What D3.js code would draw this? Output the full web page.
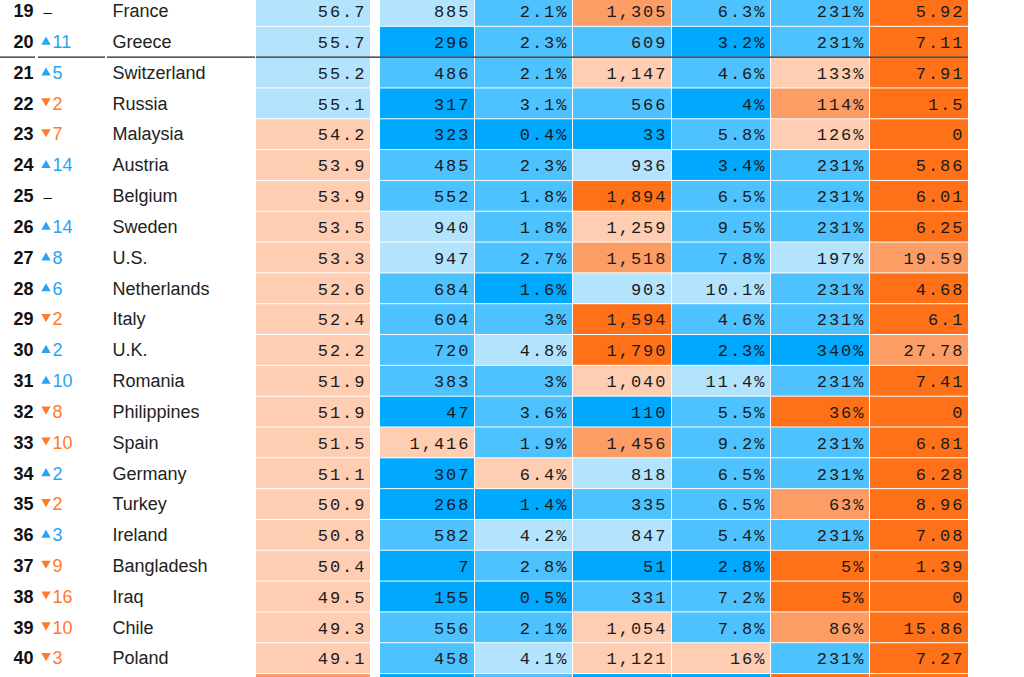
<!DOCTYPE html>
<html>
<head>
<meta charset="utf-8">
<script src="https://cdn.jsdelivr.net/npm/d3@7"></script>
<style>
  html, body { margin: 0; padding: 0; background: #fff; }
  svg { display: block; }
</style>
</head>
<body>
<svg id="chart" width="1024" height="677"></svg>
<script>
// ---- data ----
const ranks = [19, 20, 21, 22, 23, 24, 25, 26, 27, 28, 29, 30, 31, 32, 33, 34, 35, 36, 37, 38, 39, 40];
const changes = [0, 11, 5, -2, -7, 14, 0, 14, 8, 6, -2, 2, 10, -8, -10, 2, -2, 3, -9, -16, -10, -3];
const countries = ["France", "Greece", "Switzerland", "Russia", "Malaysia", "Austria", "Belgium", "Sweden", "U.S.",
  "Netherlands", "Italy", "U.K.", "Romania", "Philippines", "Spain", "Germany", "Turkey", "Ireland", "Bangladesh",
  "Iraq", "Chile", "Poland"];
const scores = [56.7, 55.7, 55.2, 55.1, 54.2, 53.9, 53.9, 53.5, 53.3, 52.6, 52.4, 52.2, 51.9, 51.9, 51.5, 51.1, 50.9, 50.8, 50.4, 49.5, 49.3, 49.1];
const scoreBand = [1, 1, 1, 1, -1, -1, -1, -1, -1, -1, -1, -1, -1, -1, -1, -1, -1, -1, -1, -1, -1, -1];

const col1 = [885, 296, 486, 317, 323, 485, 552, 940, 947, 684, 604, 720, 383, 47, 1416, 307, 268, 582, 7, 155, 556, 458];
const band1 = [1, 3, 2, 3, 3, 2, 2, 1, 1, 2, 2, 2, 2, 3, -1, 3, 3, 2, 3, 3, 2, 2];
const col2 = [2.1, 2.3, 2.1, 3.1, 0.4, 2.3, 1.8, 1.8, 2.7, 1.6, 3, 4.8, 3, 3.6, 1.9, 6.4, 1.4, 4.2, 2.8, 0.5, 2.1, 4.1];
const band2 = [2, 2, 2, 2, 3, 2, 2, 2, 2, 3, 2, 1, 2, 2, 2, -1, 3, 1, 2, 3, 2, 1];
const col3 = [1305, 609, 1147, 566, 33, 936, 1894, 1259, 1518, 903, 1594, 1790, 1040, 110, 1456, 818, 335, 847, 51, 331, 1054, 1121];
const band3 = [-2, 2, -1, 2, 3, 1, -3, -1, -2, 1, -3, -3, -1, 3, -2, 1, 2, 1, 3, 2, -1, -1];
const col4 = [6.3, 3.2, 4.6, 4, 5.8, 3.4, 6.5, 9.5, 7.8, 10.1, 4.6, 2.3, 11.4, 5.5, 9.2, 6.5, 6.5, 5.4, 2.8, 7.2, 7.8, 16];
const band4 = [2, 3, 2, 3, 2, 3, 2, 2, 2, 1, 2, 3, 1, 2, 2, 2, 2, 2, 3, 2, 2, -1];
const col5 = [231, 231, 133, 114, 126, 231, 231, 231, 197, 231, 231, 340, 231, 36, 231, 231, 63, 231, 5, 5, 86, 231];
const band5 = [2, 2, -1, -2, -1, 2, 2, 2, 1, 2, 2, 3, 2, -3, 2, 2, -2, 2, -3, -3, -2, 2];
const col6 = [5.92, 7.11, 7.91, 1.5, 0, 5.86, 6.01, 6.25, 19.59, 4.68, 6.1, 27.78, 7.41, 0, 6.81, 6.28, 8.96, 7.08, 1.39, 0, 15.86, 7.27];
const band6 = [-3, -3, -3, -3, -3, -3, -3, -3, -2, -3, -3, -2, -3, -3, -3, -3, -3, -3, -3, -3, -3, -3];

// next row (rank 41) is cut off at the bottom edge: only its cell colours show
const nextRank = 41;
const nextBands = [-2, 3, 2, 3, 3, -3, -3];

// ---- layout ----
const svg = d3.select("#chart");
const ROW = 30.82;
const y = d3.scaleLinear().domain([19, 20]).range([-4, -4 + ROW]);
const cellH = ROW - 1;
const BASE = 21.2;

const color = d3.scaleOrdinal()
  .domain([3, 2, 1, -1, -2, -3])
  .range(["#00a9fe", "#4dc2ff", "#b4e4fd", "#fecdb2", "#fd9d66", "#ff7119"]);

const fmtInt = d3.format(",");
const fmtPct = v => String(v) + "%";
const columns = [
  { x0: 256, x1: 370, values: scores, bands: scoreBand, fmt: v => v.toFixed(1) },
  { x0: 380, x1: 474, values: col1, bands: band1, fmt: fmtInt },
  { x0: 475, x1: 572, values: col2, bands: band2, fmt: fmtPct },
  { x0: 573, x1: 671, values: col3, bands: band3, fmt: fmtInt },
  { x0: 672, x1: 770, values: col4, bands: band4, fmt: fmtPct },
  { x0: 771, x1: 869, values: col5, bands: band5, fmt: fmtPct },
  { x0: 870, x1: 968, values: col6, bands: band6, fmt: v => String(v) }
];

const rows = ranks.map((r, i) => ({ rank: r, i }));

// cells
columns.forEach((c, ci) => {
  const g = svg.append("g");
  g.selectAll("rect").data(rows).join("rect")
    .attr("x", c.x0).attr("width", c.x1 - c.x0)
    .attr("y", d => y(d.rank)).attr("height", cellH)
    .attr("fill", d => color(c.bands[d.i]));
  g.selectAll("text").data(rows).join("text")
    .attr("x", c.x1 - 3.5)
    .attr("y", d => y(d.rank) + BASE)
    .attr("text-anchor", "end")
    .attr("font-family", "'Liberation Mono', monospace")
    .attr("font-size", 17)
    .attr("letter-spacing", 2)
    .attr("fill", "#1a1a1a")
    .text(d => c.fmt(c.values[d.i]));
  // partial next row
  svg.append("rect")
    .attr("x", c.x0).attr("width", c.x1 - c.x0)
    .attr("y", y(nextRank)).attr("height", cellH)
    .attr("fill", color(nextBands[ci]));
});

// rank
svg.append("g").selectAll("text").data(rows).join("text")
  .attr("x", 33.5)
  .attr("y", d => y(d.rank) + BASE)
  .attr("text-anchor", "end")
  .attr("font-family", "'Liberation Sans', Arial, sans-serif")
  .attr("font-weight", "bold")
  .attr("font-size", 18)
  .attr("fill", "#111")
  .text(d => d.rank);

// change
const up = "#2aa3f3", down = "#ff7a2a";
const chg = svg.append("g");
chg.selectAll("path").data(rows.filter(d => changes[d.i] !== 0)).join("path")
  .attr("d", d3.symbol(d3.symbolTriangle, 38)())
  .attr("transform", d => {
    const top = y(d.rank);
    return changes[d.i] > 0
      ? `translate(46,${top + 15.2})`
      : `translate(46,${top + 12.6}) rotate(180)`;
  })
  .attr("fill", d => changes[d.i] > 0 ? up : down);
chg.selectAll("text").data(rows).join("text")
  .attr("x", d => changes[d.i] === 0 ? 43.5 : 52.5)
  .attr("y", d => y(d.rank) + BASE)
  .attr("font-family", "'Liberation Sans', Arial, sans-serif")
  .attr("font-size", d => changes[d.i] === 0 ? 15 : 18)
  .attr("fill", d => changes[d.i] > 0 ? up : changes[d.i] < 0 ? down : "#111")
  .text(d => changes[d.i] === 0 ? "–" : Math.abs(changes[d.i]));

// country
svg.append("g").selectAll("text").data(rows).join("text")
  .attr("x", 112.5)
  .attr("y", d => y(d.rank) + BASE)
  .attr("font-family", "'Liberation Sans', Arial, sans-serif")
  .attr("font-size", 18)
  .attr("fill", "#222")
  .text(d => countries[d.i]);

// top-20 separator line
const sepY = y(21) - 0.5;
[[0, 35], [38, 105], [107, 255], [256, 968]].forEach(([a, b]) => {
  svg.append("line")
    .attr("x1", a).attr("x2", b)
    .attr("y1", sepY).attr("y2", sepY)
    .attr("stroke", "#222").attr("stroke-width", 1.2);
});
</script>
</body>
</html>
